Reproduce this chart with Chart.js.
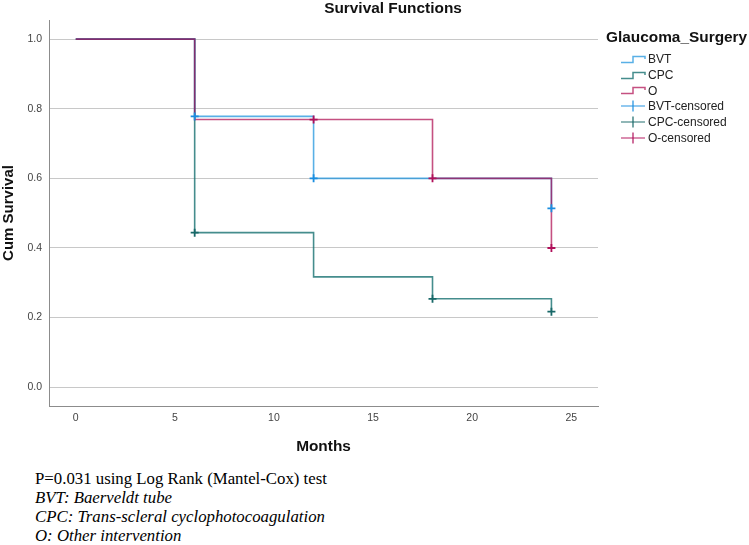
<!DOCTYPE html>
<html>
<head>
<meta charset="utf-8">
<script src="https://cdn.jsdelivr.net/npm/chart.js@4.4.1/dist/chart.umd.min.js"></script>
<style>
    body { margin: 0; background: #fff; font-family: "Liberation Sans", Arial, sans-serif; }
    #wrap { position: relative; width: 749px; height: 545px; overflow: hidden; }
    #chartBox { position: absolute; left: 0; top: 0; width: 749px; height: 460px; }
    #title { position: absolute; left: 393px; top: -1px; transform: translateX(-50%); font-weight: bold; font-size: 15.4px; color: #111; white-space: nowrap; }
    #legend { position: absolute; left: 606px; top: 28px; color: #222; }
    #legend .head { font-weight: bold; font-size: 15.4px; line-height: 18px; height: 18px; color: #111; margin-bottom: 6px; }
    #legend .item { height: 15.8px; line-height: 15.8px; font-size: 12px; white-space: nowrap; }
    #legend svg { vertical-align: middle; margin-left: 15px; margin-right: 2px; position: relative; top: -1px; }
    #notes { position: absolute; left: 35px; top: 470px; font-family: "Liberation Serif", "Times New Roman", serif; font-size: 16.8px; line-height: 18.9px; color: #000; }
    #notes i { font-style: italic; }
</style>
</head>
<body>
<div id="wrap">
    <div id="chartBox"><canvas id="kmChart"></canvas></div>
    <div id="title">Survival Functions</div>
    <div id="legend"></div>
    <div id="notes">
        P=0.031 using Log Rank (Mantel-Cox) test<br>
        <i>BVT: Baerveldt tube</i><br>
        <i>CPC: Trans-scleral cyclophotocoagulation</i><br>
        <i>O: Other intervention</i>
    </div>
</div>
<script>
// survival steps (months, cumulative survival)
const bvtTime = [0, 6, 12, 24];
const bvtSurv = [1.0, 0.778, 0.6, 0.514];
const cpcTime = [0, 6, 12, 18, 24];
const cpcSurv = [1.0, 0.444, 0.317, 0.254, 0.217];
const oTime = [0, 6, 18, 24];
const oSurv = [1.0, 0.769, 0.6, 0.4];

// censored observations
const bvtCensTime = [6, 12, 24];
const bvtCensSurv = [0.778, 0.6, 0.514];
const cpcCensTime = [6, 18, 24];
const cpcCensSurv = [0.444, 0.254, 0.217];
const oCensTime = [12, 18, 24];
const oCensSurv = [0.769, 0.6, 0.4];

const groups = ['BVT', 'CPC', 'O'];
const xTicks = [0, 5, 10, 15, 20, 25];
const yTicks = [0.0, 0.2, 0.4, 0.6, 0.8, 1.0];

const lineColors = {
    BVT: 'rgba(19, 142, 219, 0.7)',
    CPC: 'rgba(23, 112, 112, 0.8)',
    O: 'rgba(172, 5, 76, 0.7)'
};
const censColors = {
    BVT: '#1a8ee0',
    CPC: '#186868',
    O: '#b0105a'
};

function toPoints(xs, ys) {
    return xs.map((x, i) => ({ x: x, y: ys[i] }));
}

const stepData = { BVT: [bvtTime, bvtSurv], CPC: [cpcTime, cpcSurv], O: [oTime, oSurv] };
const censData = { BVT: [bvtCensTime, bvtCensSurv], CPC: [cpcCensTime, cpcCensSurv], O: [oCensTime, oCensSurv] };

const datasets = [];
// censor marks on top
groups.forEach(g => {
    datasets.push({
        label: g + '-censored',
        data: toPoints(censData[g][0], censData[g][1]),
        showLine: false,
        pointStyle: 'cross',
        pointRadius: 4,
        borderColor: censColors[g],
        backgroundColor: censColors[g],
        pointBorderWidth: 1.8,
        order: 0
    });
});
// O drawn above BVT above CPC
const lineOrder = { O: 1, BVT: 2, CPC: 3 };
groups.forEach(g => {
    datasets.push({
        label: g,
        data: toPoints(stepData[g][0], stepData[g][1]),
        showLine: true,
        stepped: 'before',
        pointRadius: 0,
        borderColor: lineColors[g],
        borderWidth: 1.6,
        fill: false,
        order: lineOrder[g]
    });
});

const fontFamily = '"Liberation Sans", Arial, sans-serif';

new Chart(document.getElementById('kmChart').getContext('2d'), {
    type: 'scatter',
    data: { datasets: datasets },
    options: {
        responsive: true,
        maintainAspectRatio: false,
        animation: false,
        events: [],
        layout: { padding: { top: 20, right: 151, bottom: 0, left: 0 } },
        plugins: {
            legend: { display: false },
            tooltip: { enabled: false }
        },
        scales: {
            x: {
                type: 'linear',
                min: -1.35,
                max: 26.35,
                afterBuildTicks: scale => { scale.ticks = xTicks.map(v => ({ value: v })); },
                afterFit: scale => { scale.height = 54; },
                grid: { display: false, drawTicks: false },
                border: { display: true, color: '#8c8c8c', width: 1 },
                ticks: { padding: 6, color: '#444', font: { family: fontFamily, size: 10.5 } },
                title: {
                    display: true,
                    text: 'Months',
                    color: '#111',
                    font: { family: fontFamily, size: 15.4, weight: 'bold' },
                    padding: { top: 0, bottom: 4 }
                }
            },
            y: {
                type: 'linear',
                min: -0.054,
                max: 1.055,
                afterBuildTicks: scale => { scale.ticks = yTicks.map(v => ({ value: v })); },
                afterFit: scale => { scale.width = 49; },
                grid: { color: '#c8c8c8', lineWidth: 1, drawTicks: false },
                border: { display: true, color: '#8c8c8c', width: 1 },
                ticks: {
                    padding: 7,
                    color: '#444',
                    font: { family: fontFamily, size: 10.5 },
                    callback: v => Number(v).toFixed(1)
                },
                title: {
                    display: true,
                    text: 'Cum Survival',
                    color: '#111',
                    font: { family: fontFamily, size: 15, weight: 'bold' },
                    padding: { top: 0, bottom: 0 }
                }
            }
        }
    }
});

// legend built from the same groups
const legendEl = document.getElementById('legend');
let html = '<div class="head">Glaucoma_Surgery</div>';
groups.forEach(g => {
    html += '<div class="item"><svg width="25" height="10"><polyline points="0,8.5 12,8.5 12,2.5 24,2.5 24,5" fill="none" stroke="' +
        lineColors[g] + '" stroke-width="1.5"/></svg>' + g + '</div>';
});
groups.forEach(g => {
    html += '<div class="item"><svg width="25" height="12"><line x1="0" y1="6" x2="24" y2="6" stroke="' + censColors[g] +
        '" stroke-width="1.2" opacity="0.8"/><line x1="12" y1="0.5" x2="12" y2="11.5" stroke="' + censColors[g] +
        '" stroke-width="1.2"/></svg>' + g + '-censored</div>';
});
legendEl.innerHTML = html;
</script>
</body>
</html>
